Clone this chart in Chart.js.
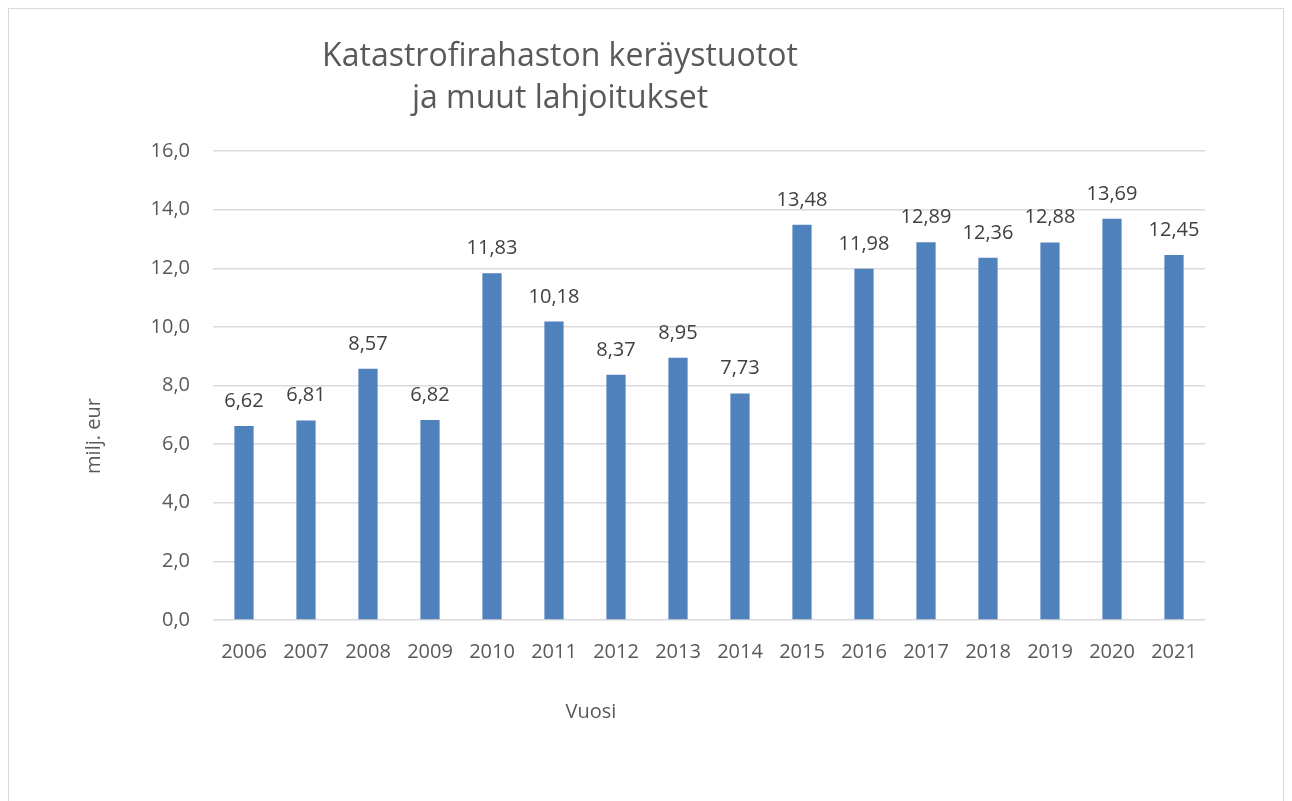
<!DOCTYPE html>
<html>
<head>
<meta charset="utf-8">
<script src="https://cdn.jsdelivr.net/npm/chart.js@4.4.0/dist/chart.umd.min.js"></script>
<style>
  html, body { margin: 0; padding: 0; background: #fff; }
  canvas { display: block; }
</style>
</head>
<body>
<canvas id="myChart" width="1292" height="801"></canvas>
<script>
// data
const years = ['2006', '2007', '2008', '2009', '2010', '2011', '2012', '2013',
  '2014', '2015', '2016', '2017', '2018', '2019', '2020', '2021'];
const amounts = [6.62, 6.81, 8.57, 6.82, 11.83, 10.18, 8.37, 8.95,
  7.73, 13.48, 11.98, 12.89, 12.36, 12.88, 13.69, 12.45];
const titleLines = ['Katastrofirahaston keräystuotot', 'ja muut lahjoitukset'];
const yTitle = 'milj. eur';
const xTitle = 'Vuosi';

const FONT = "'Open Sans', sans-serif";
const fmt = v => v.toFixed(2).replace('.', ',');

// valkoinen tausta + harmaa kehys
const framePlugin = {
  id: 'frame',
  beforeDraw(chart) {
    const ctx = chart.ctx;
    ctx.save();
    ctx.fillStyle = '#fff';
    ctx.fillRect(0, 0, chart.width, chart.height);
    ctx.strokeStyle = '#d9d9d9';
    ctx.lineWidth = 1;
    ctx.strokeRect(8.5, 8.5, 1275, 810);
    ctx.restore();
  },
};

// arvot pylväiden päälle
const valueLabels = {
  id: 'valueLabels',
  afterDatasetsDraw(chart) {
    const ctx = chart.ctx;
    const meta = chart.getDatasetMeta(0);
    ctx.save();
    ctx.font = '20px ' + FONT;
    ctx.fillStyle = '#404040';
    ctx.textAlign = 'center';
    ctx.textBaseline = 'alphabetic';
    meta.data.forEach((bar, i) => {
      ctx.fillText(fmt(amounts[i]), bar.x, bar.y - 19);
    });
    ctx.restore();
  },
};

// otsikko ja akselien nimet (Excelin sijainnit)
const titles = {
  id: 'titles',
  afterDraw(chart) {
    const ctx = chart.ctx;
    ctx.save();
    ctx.fillStyle = '#595959';
    ctx.textAlign = 'center';
    ctx.textBaseline = 'alphabetic';
    ctx.font = '32px ' + FONT;
    ctx.fillText(titleLines[0], 560, 66);
    ctx.fillText(titleLines[1], 560, 108);
    ctx.font = '20px ' + FONT;
    ctx.fillText(xTitle, 591, 718);
    ctx.translate(100, 436);
    ctx.rotate(-Math.PI / 2);
    ctx.fillText(yTitle, 0, 0);
    ctx.restore();
  },
};

const data = {
  labels: years,
  datasets: [
    {
      data: amounts,
      backgroundColor: '#4f81bd',
      borderWidth: 0,
      barPercentage: 0.31,
      categoryPercentage: 1,
    },
  ],
};

const config = {
  type: 'bar',
  data: data,
  options: {
    responsive: false,
    animation: false,
    devicePixelRatio: 1,
    layout: {
      padding: { top: 151, right: 87, bottom: 121, left: 0 },
    },
    scales: {
      x: {
        grid: { display: false },
        border: { display: false },
        ticks: {
          color: '#595959',
          font: { family: FONT, size: 20 },
          padding: 12,
          maxRotation: 0,
        },
        afterFit: s => { s.height = 60; },
      },
      y: {
        min: 0,
        max: 16,
        ticks: {
          stepSize: 2,
          color: '#595959',
          font: { family: FONT, size: 20 },
          padding: 23,
          callback: v => v.toFixed(1).replace('.', ','),
        },
        grid: { color: '#d9d9d9', lineWidth: 1.5, drawTicks: false },
        border: { display: false },
        afterFit: s => { s.width = 213; },
      },
    },
    plugins: {
      legend: { display: false },
      tooltip: { enabled: false },
    },
  },
  plugins: [framePlugin, valueLabels, titles],
};

const myChart = new Chart(document.getElementById('myChart'), config);
</script>
</body>
</html>
